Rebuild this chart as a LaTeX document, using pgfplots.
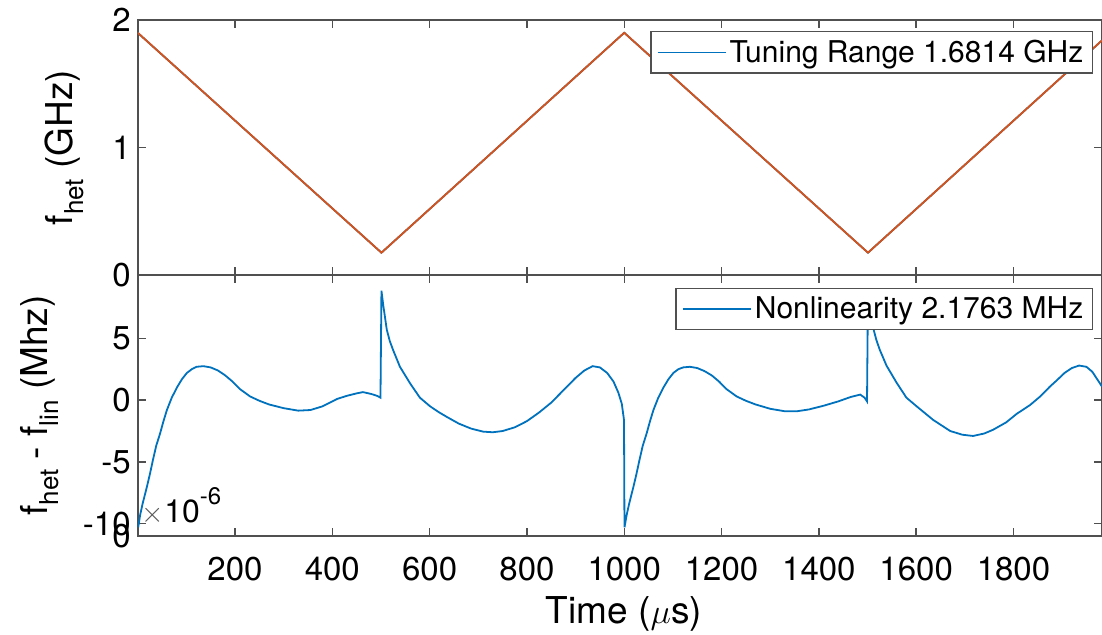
\documentclass[border=0pt]{standalone}
\usepackage{fontspec}
\setmainfont{TeX Gyre Heros}
\usepackage{pgfplots}
\pgfplotsset{compat=1.18}
\definecolor{mblue}{RGB}{0,114,189}
\definecolor{morange}{RGB}{217,83,25}
\definecolor{axgray}{RGB}{80,80,80}
\newcommand{\sub}[1]{\raisebox{-0.3em}{\fontsize{13}{14}\selectfont #1}}

\pgfplotsset{mstyle/.style={
  scale only axis, width=482.15pt,
  xmin=0, xmax=1982, xtick={200,400,...,1800},
  tick align=inside, tick pos=both, major tick length=4pt,
  axis line style={axgray, line width=0.8pt},
  tick style={axgray, line width=0.7pt},
  tick label style={font=\fontsize{16.5}{19}\selectfont},
  /pgf/number format/assume math mode=true,
  /pgf/number format/1000 sep={},
  legend image code/.code={\draw[##1] (0pt,0pt) -- (34pt,0pt);},
  legend cell align=left,
  legend style={draw=axgray, line width=0.7pt, fill=white,
    font=\fontsize{15}{18}\selectfont, inner xsep=3pt, inner ysep=2pt,
    nodes={inner xsep=1.5pt, inner ysep=2pt},
    at={(1,1)}, anchor=north east},
  ylabel style={font=\fontsize{18.5}{22}\selectfont, anchor=center},
}}

\begin{document}
\begin{tikzpicture}
\useasboundingbox (0,0) rectangle (551pt,-317pt);

% ---- top: heterodyne frequency ----
\begin{axis}[mstyle, at={(68.85pt,-137.5pt)}, anchor=south west, height=127.5pt,
  ymin=0, ymax=2, ytick={0,1,2}, xticklabels={},
  ylabel={f\sub{het} (GHz)},
  ylabel style={at={(axis description cs:-0.0757,0.5)}},
  legend style={xshift=-4.5pt, yshift=-5.5pt}]
\addplot[mblue, line width=0.9pt] coordinates {(0,1.90) (501,0.175) (1000,1.90) (1501,0.175) (1982,1.84)};
\addlegendentry{Tuning Range 1.6814 GHz}
\addplot[morange, line width=0.9pt, forget plot] coordinates {(0,1.90) (501,0.175) (1000,1.90) (1501,0.175) (1982,1.84)};
\end{axis}

% ---- bottom: nonlinearity ----
\begin{axis}[mstyle, at={(68.85pt,-268pt)}, anchor=south west, height=130.5pt,
  ymin=-11, ymax=10.13, ytick={-10,-5,0,5},
  extra y ticks={-11}, extra y tick labels={0},
  extra tick style={major tick length=0pt},
  xticklabel style={anchor=base, yshift=-22pt},
  xlabel={Time ($\mu$s)},
  xlabel style={font=\fontsize{18.5}{22}\selectfont, at={(axis description cs:0.5,0)}, anchor=base, yshift=-43.5pt, xshift=2pt},
  ylabel={f\sub{het} - f\sub{lin} (Mhz)},
  ylabel style={at={(axis description cs:-0.1013,0.5)}},
  legend style={xshift=-4.5pt, yshift=-6.5pt}]
\addplot[mblue, line width=0.9pt] coordinates {
(1,-10.3)(5,-9.3)(10,-8.4)(19,-7.0)(25,-6.0)(31,-4.9)(38,-3.7)(46,-2.7)(53,-1.7)(60,-0.8)
(70,0.2)(81,1.05)(91,1.7)(101,2.2)(111,2.5)(121,2.7)(135,2.75)(150,2.65)(165,2.4)(180,2.0)
(195,1.5)(210,0.9)(231,0.3)(250,-0.05)(270,-0.35)(300,-0.65)(330,-0.85)(355,-0.8)(380,-0.5)
(395,-0.2)(410,0.1)(430,0.35)(450,0.55)(463,0.65)(480,0.5)(492,0.35)(499,0.2)
(501,8.86)(505,7.6)(512,5.7)(518,4.8)(525,4.05)(539,2.7)(560,1.35)(580,0.2)(601,-0.5)
(620,-1.0)(635,-1.35)(660,-1.9)(685,-2.3)(710,-2.55)(730,-2.6)(750,-2.5)(775,-2.2)(800,-1.7)
(825,-1.0)(850,-0.2)(875,0.8)(900,1.8)(918,2.4)(935,2.75)(950,2.65)(965,2.2)(978,1.5)
(988,0.6)(995,-0.3)(999.5,-1.6)
(1000.5,-10.3)(1005,-9.3)(1010,-8.4)(1019,-7.0)(1025,-6.0)(1031,-4.9)(1038,-3.7)(1046,-2.7)
(1053,-1.7)(1060,-0.8)(1070,0.2)(1081,1.05)(1091,1.7)(1101,2.2)(1111,2.5)(1121,2.65)
(1135,2.7)(1150,2.6)(1165,2.35)(1180,2.0)(1195,1.5)(1210,0.9)(1231,0.3)(1250,-0.05)
(1270,-0.35)(1300,-0.7)(1330,-0.9)(1355,-0.9)(1380,-0.75)(1410,-0.45)(1440,-0.1)
(1465,0.25)(1485,0.45)(1494,0.2)(1499,-0.1)
(1501,8.8)(1505,7.6)(1512,5.8)(1518,4.9)(1525,4.1)(1539,2.8)(1560,1.4)(1580,0.2)(1601,-0.5)
(1635,-1.6)(1670,-2.5)(1695,-2.8)(1717,-2.9)(1740,-2.7)(1758,-2.4)(1785,-1.8)(1807,-1.1)
(1834,-0.4)(1855,0.3)(1875,1.1)(1889,1.6)(1905,2.2)(1920,2.6)(1935,2.8)(1950,2.7)
(1962,2.3)(1972,1.7)(1982,1.1)};
\addlegendentry{Nonlinearity 2.1763 MHz}
\node[anchor=base west, inner sep=0pt, font=\fontsize{16}{19}\selectfont]
  at (rel axis cs:0.004,0.0536) {\textcolor{black!65}{\fontsize{15}{16}\selectfont$\times$}10\raisebox{0.55em}{\fontsize{12}{13}\selectfont -6}};
\end{axis}
\end{tikzpicture}
\end{document}
